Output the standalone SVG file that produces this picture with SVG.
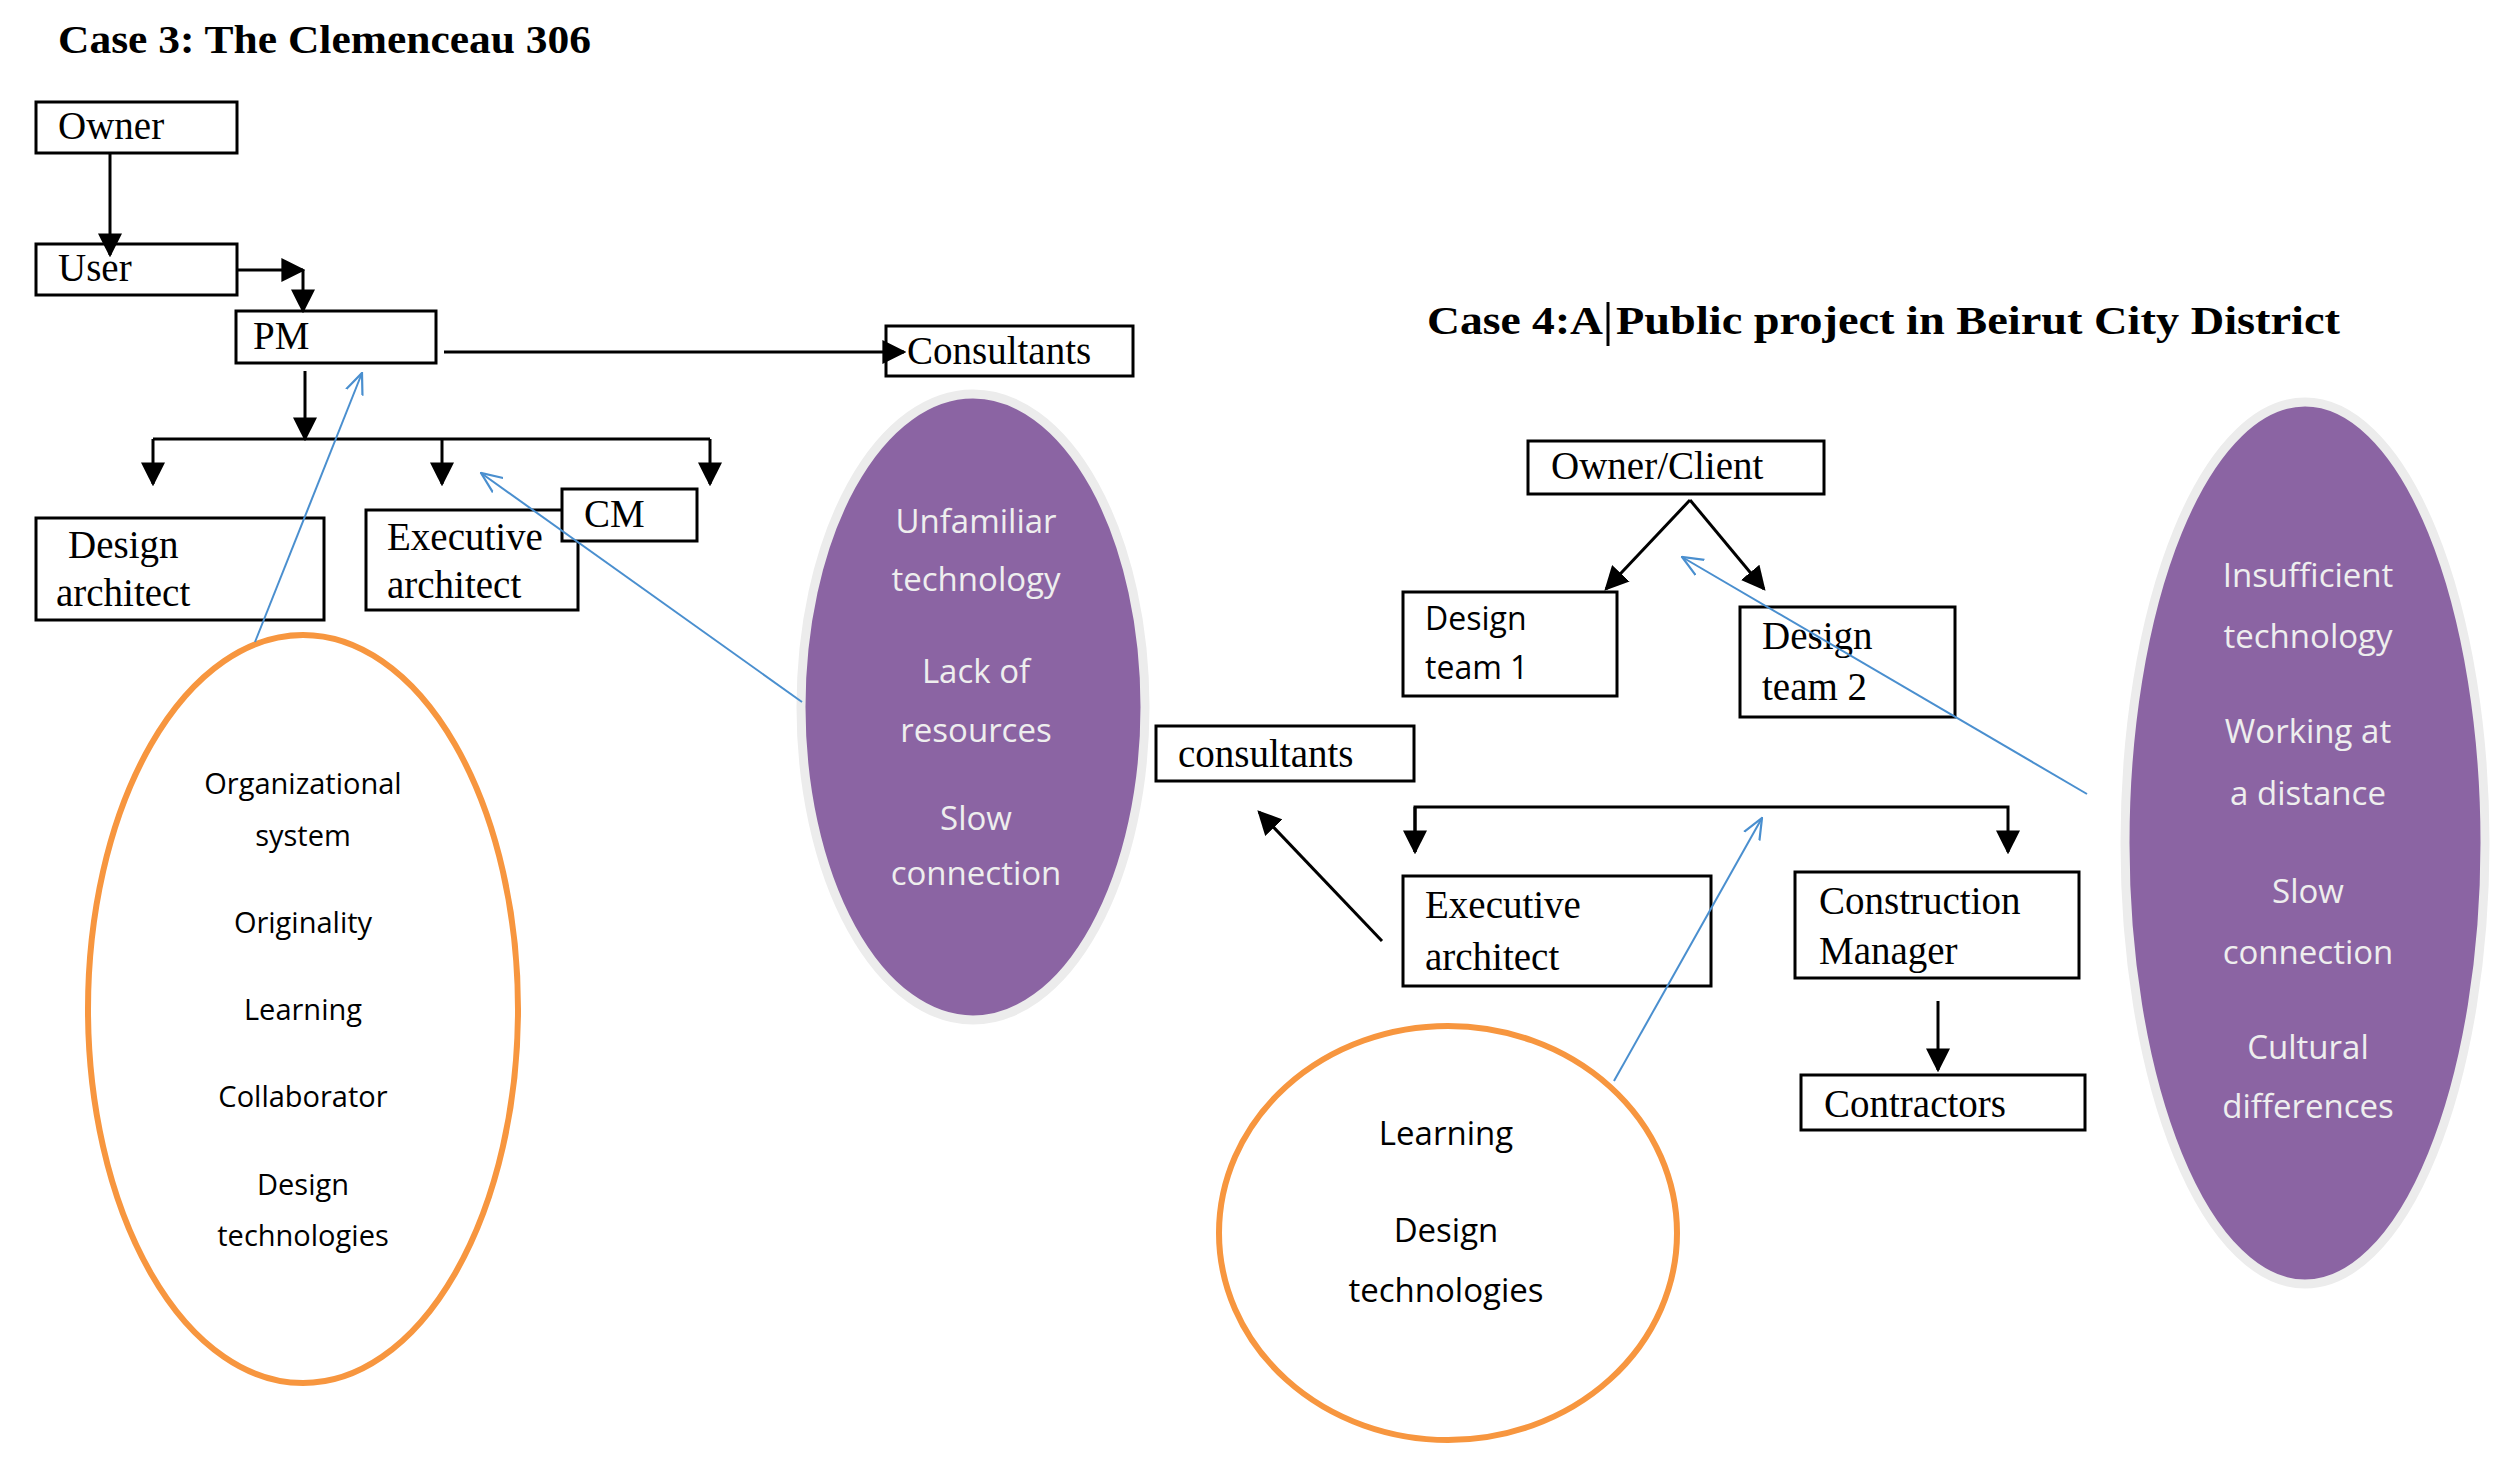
<svg xmlns="http://www.w3.org/2000/svg" width="2518" height="1460" viewBox="0 0 2518 1460">
<style>
.box{fill:#fff;stroke:#000;stroke-width:3}
.t{font-family:"Liberation Serif",serif;font-size:39px;fill:#000}
.ts{font-family:"Open Sans","Liberation Sans",sans-serif;font-size:32px;fill:#000}
.h{font-family:"Liberation Serif",serif;font-size:40px;font-weight:bold;fill:#000}
.pt{font-family:"Open Sans","Liberation Sans",sans-serif;font-size:33px;fill:#eee;text-anchor:middle}
.ot{font-family:"Open Sans","Liberation Sans",sans-serif;font-size:29px;fill:#000;text-anchor:middle}
.ln{stroke:#000;stroke-width:3;fill:none}
.bl{stroke:#4a8fcf;stroke-width:2;fill:none}
.pur{fill:#8B64A3;stroke:#ececec;stroke-width:9}
.orn{fill:#fff;stroke:#F7963F;stroke-width:6}
</style>
<defs>
<marker id="ab" viewBox="0 0 10 10" refX="9" refY="5" markerWidth="8" markerHeight="8" orient="auto"><path d="M0,0L10,5L0,10z" fill="#000"/></marker>
<marker id="o" viewBox="0 0 20 20" refX="19" refY="10" markerWidth="22" markerHeight="22" markerUnits="userSpaceOnUse" orient="auto"><path d="M0,2L19,10L0,18" fill="none" stroke="#4a8fcf" stroke-width="2"/></marker>
</defs>
<rect width="2518" height="1460" fill="#fff"/>
<text class="h" x="58" y="53" textLength="533" lengthAdjust="spacingAndGlyphs">Case 3: The Clemenceau 306</text>
<text class="h" x="1427" y="334" textLength="176" lengthAdjust="spacingAndGlyphs">Case 4:A</text>
<line x1="1608" y1="302" x2="1608" y2="346" stroke="#000" stroke-width="3"/>
<text class="h" x="1616" y="334" textLength="724" lengthAdjust="spacingAndGlyphs">Public project in Beirut City District</text>

<g id="ell-orange1"><ellipse class="orn" cx="303" cy="1009" rx="215" ry="374"/>
<text class="ot" x="303" y="794">Organizational</text><text class="ot" x="303" y="846">system</text><text class="ot" x="303" y="933">Originality</text><text class="ot" x="303" y="1020">Learning</text><text class="ot" x="303" y="1107">Collaborator</text><text class="ot" x="303" y="1195">Design</text><text class="ot" x="303" y="1246">technologies</text></g>
<g id="ell-purple1"><ellipse class="pur" cx="973" cy="707" rx="172" ry="313"/>
<text class="pt" x="976" y="533">Unfamiliar</text><text class="pt" x="976" y="591">technology</text><text class="pt" x="976" y="683">Lack of</text><text class="pt" x="976" y="742">resources</text><text class="pt" x="976" y="830">Slow</text><text class="pt" x="976" y="885">connection</text></g>
<g id="ell-orange2"><ellipse class="orn" cx="1448" cy="1233" rx="229" ry="207"/>
<text class="pt" style="fill:#000" x="1446" y="1145">Learning</text><text class="pt" style="fill:#000" x="1446" y="1242">Design</text><text class="pt" style="fill:#000" x="1446" y="1302">technologies</text></g>
<g id="ell-purple2"><ellipse class="pur" cx="2305" cy="843" rx="180" ry="441"/>
<text class="pt" x="2308" y="587">Insufficient</text><text class="pt" x="2308" y="648">technology</text><text class="pt" x="2308" y="743">Working at</text><text class="pt" x="2308" y="805">a distance</text><text class="pt" x="2308" y="903">Slow</text><text class="pt" x="2308" y="964">connection</text><text class="pt" x="2308" y="1059">Cultural</text><text class="pt" x="2308" y="1118">differences</text></g>

<g id="owner"><rect class="box" x="36" y="102" width="201" height="51"/><text class="t" x="58" y="139">Owner</text></g>
<g id="user"><rect class="box" x="36" y="244" width="201" height="51"/><text class="t" x="58" y="281">User</text></g>
<g id="pm"><rect class="box" x="236" y="311" width="200" height="52"/><text class="t" x="253" y="349">PM</text></g>
<g id="consultants"><rect class="box" x="886" y="326" width="247" height="50"/><text class="t" x="907" y="364">Consultants</text></g>
<g id="design-architect"><rect class="box" x="36" y="518" width="288" height="102"/><text class="t" x="68" y="558">Design</text><text class="t" x="56" y="606">architect</text></g>
<g id="exec-architect"><rect class="box" x="366" y="510" width="212" height="100"/><text class="t" x="387" y="550">Executive</text><text class="t" x="387" y="598">architect</text></g>
<g id="cm"><rect class="box" x="562" y="489" width="135" height="52"/><text class="t" x="584" y="527">CM</text></g>

<g id="owner-client"><rect class="box" x="1528" y="441" width="296" height="53"/><text class="t" x="1551" y="479">Owner/Client</text></g>
<g id="design-team1"><rect class="box" x="1403" y="592" width="214" height="104"/><text class="ts" x="1425" y="630">Design</text><text class="ts" x="1425" y="679">team 1</text></g>
<g id="design-team2"><rect class="box" x="1740" y="607" width="215" height="110"/><text class="t" x="1762" y="649">Design</text><text class="t" x="1762" y="700">team 2</text></g>
<g id="consultants2"><rect class="box" x="1156" y="726" width="258" height="55"/><text class="t" x="1178" y="767">consultants</text></g>
<g id="exec-architect2"><rect class="box" x="1403" y="876" width="308" height="110"/><text class="t" x="1425" y="918">Executive</text><text class="t" x="1425" y="970">architect</text></g>
<g id="construction-manager"><rect class="box" x="1795" y="872" width="284" height="106"/><text class="t" x="1819" y="914">Construction</text><text class="t" x="1819" y="964">Manager</text></g>
<g id="contractors"><rect class="box" x="1801" y="1075" width="284" height="55"/><text class="t" x="1824" y="1117">Contractors</text></g>

<g id="connectors">
<path class="ln" d="M110,153V255" marker-end="url(#ab)"/>
<path class="ln" d="M237,270H303" marker-end="url(#ab)"/>
<path class="ln" d="M303,270V311" marker-end="url(#ab)"/>
<path class="ln" d="M444,352H904" marker-end="url(#ab)"/>
<path class="ln" d="M305,371V439" marker-end="url(#ab)"/>
<path class="ln" d="M153,439H710"/>
<path class="ln" d="M153,439V484" marker-end="url(#ab)"/>
<path class="ln" d="M442,439V484" marker-end="url(#ab)"/>
<path class="ln" d="M710,439V484" marker-end="url(#ab)"/>
<path class="bl" d="M255,642L362,373" marker-end="url(#o)"/>
<path class="bl" d="M802,702L481,473" marker-end="url(#o)"/>
<path class="ln" d="M1690,500L1606,589" marker-end="url(#ab)"/>
<path class="ln" d="M1690,500L1764,589" marker-end="url(#ab)"/>
<path class="ln" d="M1415,852V807H2008V852" marker-end="url(#ab)"/>
<path class="ln" d="M1415,807V852" marker-end="url(#ab)"/>
<path class="ln" d="M1938,1001V1070" marker-end="url(#ab)"/>
<path class="ln" d="M1382,941L1259,812" marker-end="url(#ab)"/>
<path class="bl" d="M1614,1081L1762,818" marker-end="url(#o)"/>
<path class="bl" d="M2087,794L1682,557" marker-end="url(#o)"/>
</g>
</svg>
